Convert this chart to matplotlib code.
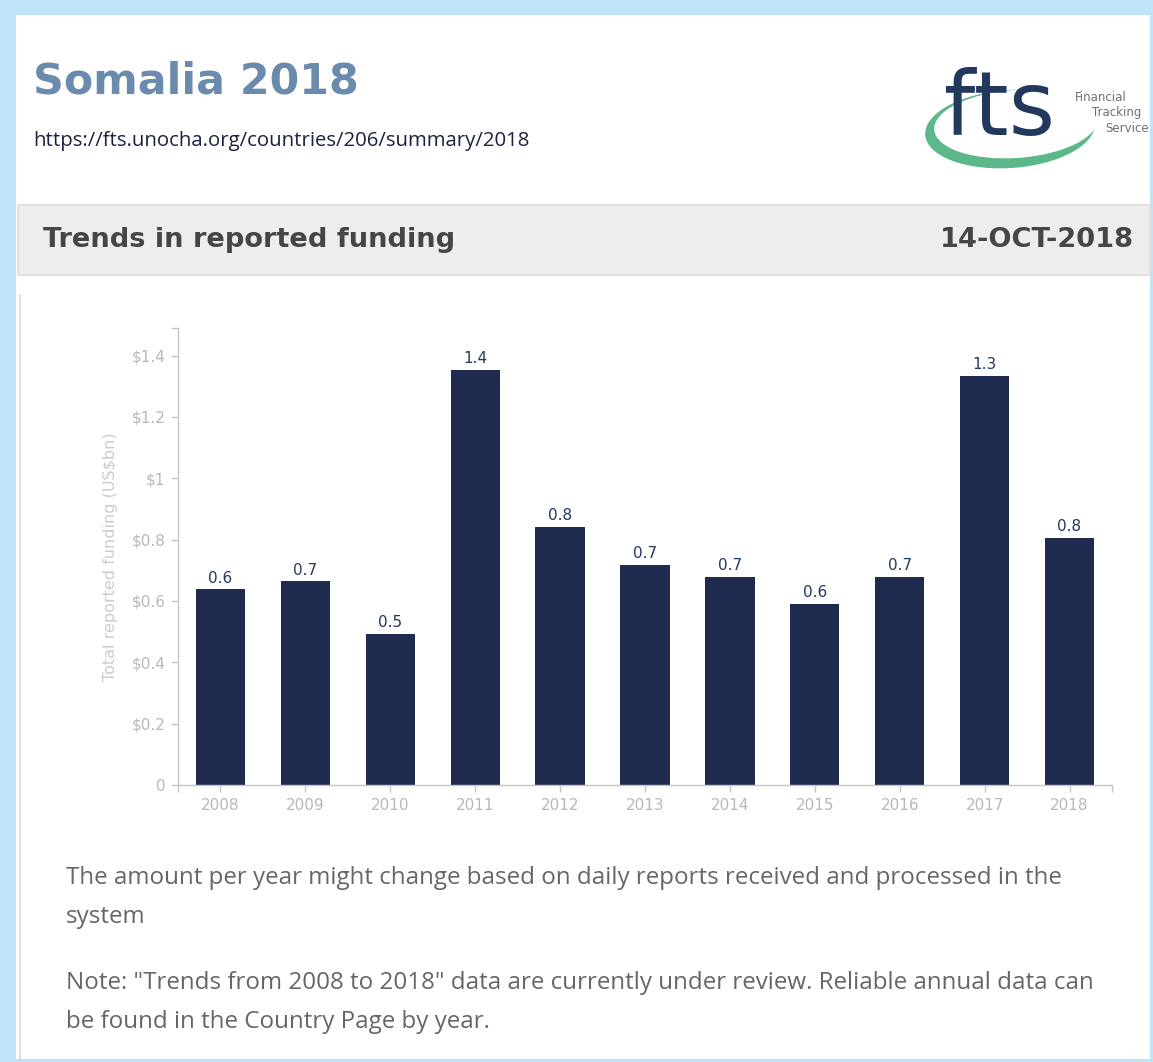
import matplotlib
matplotlib.use("Agg")
import matplotlib.pyplot as plt
from matplotlib.patches import Rectangle, Ellipse

W, H = 1153, 1062

years = ["2008", "2009", "2010", "2011", "2012", "2013",
         "2014", "2015", "2016", "2017", "2018"]
funding_bn = [0.638, 0.664, 0.493, 1.354, 0.842, 0.717,
              0.679, 0.590, 0.679, 1.333, 0.806]
ytick_vals = [0, 0.2, 0.4, 0.6, 0.8, 1.0, 1.2, 1.4]
ytick_labels = ["0", "$0.2", "$0.4", "$0.6", "$0.8", "$1", "$1.2", "$1.4"]

page_title = "Somalia 2018"
page_url = "https://fts.unocha.org/countries/206/summary/2018"
section_title = "Trends in reported funding"
section_date = "14-OCT-2018"
footer_lines = [
    "The amount per year might change based on daily reports received and processed in the",
    "system",
    "Note: \"Trends from 2008 to 2018\" data are currently under review. Reliable annual data can",
    "be found in the Country Page by year.",
]
footer_y = [878, 917, 983, 1022]

BAR = "#1f2b4e"
AXIS_GREY = "#c4c4c4"
TICK_GREY = "#b8b8b8"


def frac(x0, y0, x1, y1):
    # pixel box (top-left origin) -> figure fraction rect
    return [x0 / W, 1 - y1 / H, (x1 - x0) / W, (y1 - y0) / H]


fig = plt.figure(figsize=(W / 100, H / 100), dpi=100)
fig.patch.set_facecolor("#bfe4f8")

# page layer in pixel coordinates
bg = fig.add_axes([0, 0, 1, 1], zorder=0)
bg.set_xlim(0, W)
bg.set_ylim(H, 0)
bg.axis("off")

bg.add_patch(Rectangle((16, 15), 1134, 1044, facecolor="white", edgecolor="none"))
bg.add_patch(Rectangle((18, 205), 1132, 70, facecolor="#ededed",
                       edgecolor="#dcdcdc", linewidth=1.2))
bg.plot([19.5, 19.5], [295, 1059], color="#d8d8d8", linewidth=1.2)

bg.text(33, 93, page_title, fontsize=30.8, fontweight="bold", color="#6a8bad",
        family="DejaVu Sans", va="baseline")
bg.text(33, 141, page_url, fontsize=14.7, color="#1c2240", family="Open Sans", va="center")
bg.text(43, 240, section_title, fontsize=19.6, fontweight="bold", color="#454545",
        family="DejaVu Sans", va="center")
bg.text(1134, 240, section_date, fontsize=19.6, fontweight="bold", color="#454545",
        family="DejaVu Sans", va="center", ha="right")

# fts logo: green swoosh as a crescent, wordmark on top
bg.add_patch(Ellipse((1010, 129), 170, 78, angle=-4, facecolor="#5cb88a", edgecolor="none"))
bg.add_patch(Ellipse((1016, 124), 164, 68, angle=-4, facecolor="white", edgecolor="none"))
bg.text(1000, 135, "fts", fontsize=64, color="#22385c", family="DejaVu Sans",
        ha="center", va="baseline")
bg.text(1075, 101, "Financial", fontsize=8.5, color="#707070", family="DejaVu Sans")
bg.text(1092, 116, "Tracking", fontsize=8.5, color="#707070", family="DejaVu Sans")
bg.text(1105, 132, "Service", fontsize=8.5, color="#707070", family="DejaVu Sans")

for line, ypos in zip(footer_lines, footer_y):
    bg.text(66, ypos, line, fontsize=17.4, color="#666666", family="Open Sans", va="center")

# bar chart
ax = fig.add_axes(frac(178, 328, 1112, 785), zorder=1)
ax.patch.set_alpha(0)
x = list(range(len(years)))
bars = ax.bar(x, funding_bn, width=0.58, color=BAR)
for rect, v in zip(bars, funding_bn):
    ax.text(rect.get_x() + rect.get_width() / 2, v + 0.012, f"{v:.1f}",
            ha="center", va="bottom", fontsize=11, color="#23395d")

ax.set_xlim(-0.5, len(years) - 0.5)
ax.set_ylim(0, 1.49)
ax.set_xticks(x)
ax.set_xticklabels(years)
ax.set_xticks([-0.5, len(years) - 0.5], minor=True)
ax.set_yticks(ytick_vals)
ax.set_yticklabels(ytick_labels)
ax.set_yticks([1.49], minor=True)
ax.tick_params(which="both", direction="out", length=5, width=1, color=AXIS_GREY,
               labelcolor=TICK_GREY, labelsize=11, pad=4)
for side in ("top", "right"):
    ax.spines[side].set_visible(False)
for side in ("left", "bottom"):
    ax.spines[side].set_color(AXIS_GREY)
    ax.spines[side].set_linewidth(1)
ax.set_ylabel("Total reported funding (US$bn)", fontsize=11.5, color="#cccccc", labelpad=10)

fig.savefig("out.png", dpi=100, facecolor=fig.get_facecolor())
